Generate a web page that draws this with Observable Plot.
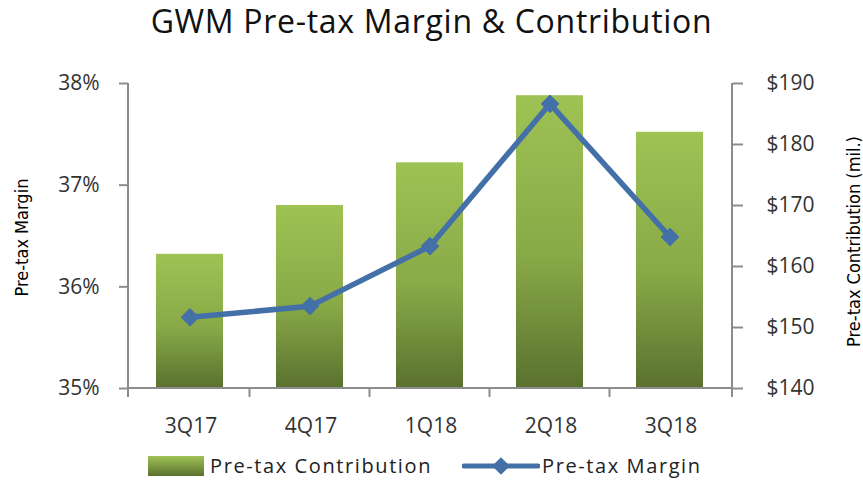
<!DOCTYPE html>
<html>
<head>
<meta charset="utf-8">
<script src="https://cdn.jsdelivr.net/npm/d3@7"></script>
<script src="https://cdn.jsdelivr.net/npm/@observablehq/plot@0.6"></script>
<style>
  html, body { margin: 0; padding: 0; background: #fff; }
  #wrap { width: 863px; height: 483px; position: relative; overflow: hidden; font-family: "Open Sans", "Noto Sans", sans-serif; }
  #title { position: absolute; top: -1px; left: 0; width: 863px; text-align: center; font-size: 32px; color: #111; letter-spacing: 0.7px; }
  #chart { position: absolute; top: 45px; left: 0; }
  #legend { position: absolute; top: 452px; left: 0; width: 863px; font-size: 20px; color: #222; letter-spacing: 1.6px; }
  .li { position: absolute; display: flex; align-items: center; }
  .ytitle { position: absolute; font-family: "Liberation Sans Narrow", "DejaVu Sans Condensed", sans-serif; font-size: 18px; color: #000; white-space: nowrap; transform-origin: center center; }
</style>
</head>
<body>
<div id="wrap">
  <div id="title">GWM Pre-tax Margin &amp; Contribution</div>
  <div id="chart"></div>
  <div class="ytitle" id="ylt">Pre-tax Margin</div>
  <div class="ytitle" id="yrt">Pre-tax Contribution (mil.)</div>
  <div id="legend"></div>
</div>
<script>
// ---- data ----
const quarters = ["3Q17", "4Q17", "1Q18", "2Q18", "3Q18"];
const contribution = [162, 170, 177, 188, 182];      // $ mil., right axis
const margin = [35.70, 35.81, 36.40, 37.80, 36.49];  // %, left axis
const marginTicks = [35, 36, 37, 38];
const dollarTicks = [140, 150, 160, 170, 180, 190];

const pctDomain = [35, 38];
const usdDomain = [140, 190];
// map $ onto the % scale (dual axis)
const usdToPct = d3.scaleLinear().domain(usdDomain).range(pctDomain);

const rows = quarters.map((q, i) => ({q, contrib: contribution[i], margin: margin[i]}));

const barGrad = "barGrad";
const defs = () => {
  const d = d3.create("svg:defs");
  const g = d.append("linearGradient").attr("id", barGrad).attr("x1", 0).attr("y1", 0).attr("x2", 0).attr("y2", 1);
  g.append("stop").attr("offset", "0%").attr("stop-color", "#9fc254");
  g.append("stop").attr("offset", "55%").attr("stop-color", "#88a947");
  g.append("stop").attr("offset", "100%").attr("stop-color", "#5a712f");
  return d.node();
};

// axis lines and category-boundary ticks drawn from the scales
const axisLines = (index, scales, values, dim) => {
  const g = d3.create("svg:g").attr("stroke", "#8c8c8c").attr("stroke-width", 2).attr("fill", "none");
  const x0 = dim.marginLeft, x1 = dim.width - dim.marginRight;
  const yb = scales.y(pctDomain[0]), yt = scales.y(pctDomain[1]);
  g.append("line").attr("x1", x0).attr("x2", x0).attr("y1", yt).attr("y2", yb + 9);
  g.append("line").attr("x1", x1).attr("x2", x1).attr("y1", yt).attr("y2", yb + 9);
  g.append("line").attr("x1", x0).attr("x2", x1).attr("y1", yb).attr("y2", yb);
  const step = scales.x.step ? scales.x.step() : (x1 - x0) / quarters.length;
  const bw = scales.x.bandwidth();
  quarters.forEach((q, i) => {
    if (i === 0) return;
    const bx = scales.x(q) - (step - bw) / 2;
    g.append("line").attr("x1", bx).attr("x2", bx).attr("y1", yb).attr("y2", yb + 9);
  });
  return g.node();
};

const tickFont = "'Open Sans', 'Noto Sans', sans-serif";

const plot = Plot.plot({
  width: 863,
  height: 400,
  marginTop: 38,
  marginBottom: 57,
  marginLeft: 128,
  marginRight: 131,
  style: {fontFamily: tickFont, fontSize: "20px", color: "#333", background: "#fff", overflow: "visible"},
  x: {domain: quarters, paddingInner: 0.44, paddingOuter: 0.22, axis: null},
  y: {domain: pctDomain, axis: null},
  marks: [
    defs,
    Plot.barY(rows, {x: "q", y1: pctDomain[0], y2: d => usdToPct(d.contrib), fill: `url(#${barGrad})`}),
    axisLines,
    Plot.axisX({tickSize: 0, tickPadding: 30, fontSize: 21, fill: "#333", label: null, dx: 1, style: "letter-spacing:2px"}),
    Plot.axisY({anchor: "left", ticks: marginTicks, tickFormat: d => d + "%", tickSize: 9, tickPadding: 20, stroke: "#8c8c8c", strokeWidth: 2, fontSize: 21, fill: "#333", label: null, style: "letter-spacing:1.5px"}),
    Plot.axisY(dollarTicks.map(v => usdToPct(v)), {anchor: "right", tickFormat: p => "$" + Math.round(usdToPct.invert(p)), tickSize: 10, tickPadding: 24, stroke: "#8c8c8c", strokeWidth: 2, fontSize: 21, fill: "#333", label: null, style: "letter-spacing:1.5px"}),
    Plot.line(rows, {x: "q", y: "margin", stroke: "#4470a8", strokeWidth: 5.5, strokeLinejoin: "miter"}),
    Plot.dot(rows, {x: "q", y: "margin", symbol: "diamond2", r: 8, fill: "#4470a8", stroke: "#4470a8", strokeWidth: 1})
  ]
});
document.getElementById("chart").appendChild(plot);

// rotated axis titles
const ylt = document.getElementById("ylt");
const yrt = document.getElementById("yrt");
function placeRot(el, cx, cy) {
  const w = el.offsetWidth, h = el.offsetHeight;
  el.style.left = (cx - w / 2) + "px";
  el.style.top = (cy - h / 2) + "px";
  el.style.transform = "rotate(-90deg)";
}
placeRot(ylt, 22, 237);
placeRot(yrt, 853, 241);

// legend
const legend = d3.select("#legend");
const l1 = legend.append("div").attr("class", "li").style("left", "148px").style("top", "0px");
l1.append("svg").attr("width", 56).attr("height", 20).style("margin-right", "6px")
  .call(s => {
    const lg = s.append("defs").append("linearGradient").attr("id", "legGrad").attr("x1", 0).attr("y1", 0).attr("x2", 0).attr("y2", 1);
    lg.append("stop").attr("offset", "0%").attr("stop-color", "#9fc254");
    lg.append("stop").attr("offset", "100%").attr("stop-color", "#5a712f");
    s.append("rect").attr("width", 56).attr("height", 20).attr("fill", "url(#legGrad)");
  });
l1.append("span").text("Pre-tax Contribution");
const l2 = legend.append("div").attr("class", "li").style("left", "462px").style("top", "0px");
l2.append("svg").attr("width", 78).attr("height", 22).style("margin-right", "2px")
  .call(s => {
    s.append("line").attr("x1", 2).attr("x2", 76).attr("y1", 11).attr("y2", 11).attr("stroke", "#4470a8").attr("stroke-width", 5).attr("stroke-linecap", "round");
    s.append("path").attr("d", d3.symbol(d3.symbolDiamond2, 200)()).attr("transform", "translate(39,11)").attr("fill", "#4470a8");
  });
l2.append("span").text("Pre-tax Margin");
</script>
</body>
</html>
